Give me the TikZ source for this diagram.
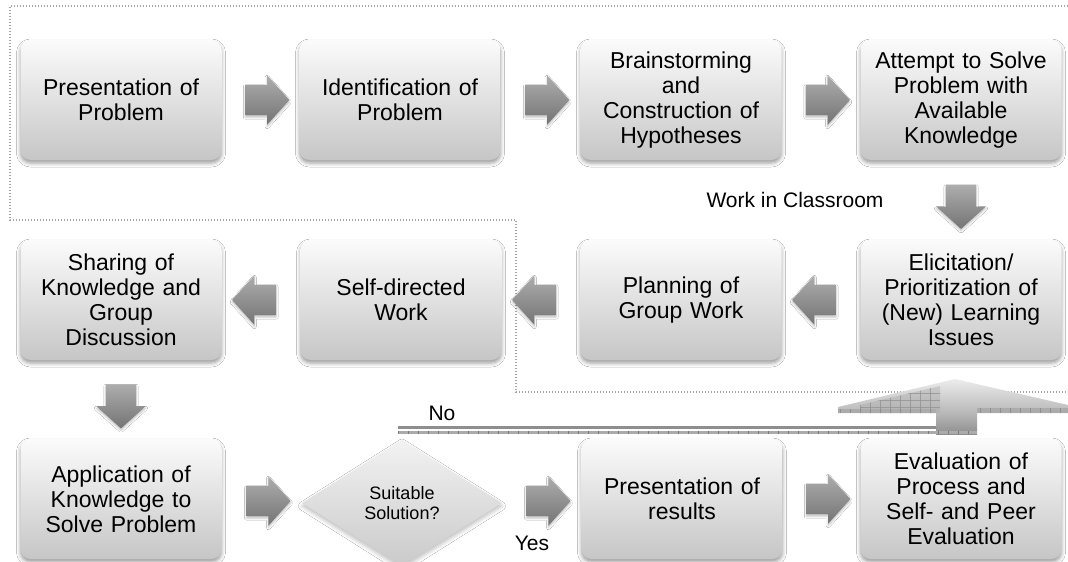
\documentclass[tikz,border=0pt]{standalone}
\usepackage{fontspec}
\setmainfont{Liberation Sans}
\usetikzlibrary{shapes.geometric,shapes.arrows,shadows.blur,calc}
\definecolor{boxtop}{HTML}{FBFBFB}
\definecolor{boxbot}{HTML}{C6C6C6}
\definecolor{arrtop}{HTML}{ADADAD}
\definecolor{arrbot}{HTML}{747474}
\definecolor{dotc}{HTML}{A4A4A4}
\definecolor{barA}{HTML}{8E8E8E}
\definecolor{barB}{HTML}{ABABAB}
\definecolor{headtop}{HTML}{ECECEC}
\definecolor{headbot}{HTML}{B8B8B8}
\definecolor{diatop}{HTML}{F2F2F2}
\definecolor{diabot}{HTML}{CACACA}
\tikzset{
  stepbox/.style={rectangle, rounded corners=10pt, minimum width=201pt, minimum height=120pt,
    text width=192pt, align=center, inner sep=0pt, top color=boxtop, bottom color=boxbot,
    draw=none, font=\fontsize{23}{25}\selectfont,
    blur shadow={shadow xshift=0pt, shadow yshift=-3pt, shadow blur radius=4pt, shadow opacity=40}},
  blockarrow/.style={single arrow, minimum height=44pt, minimum width=49pt, inner sep=15pt,
    single arrow head extend=9.5pt, single arrow tip angle=96, draw=none,
    top color=arrtop, bottom color=arrbot,
    blur shadow={shadow xshift=0pt, shadow yshift=-2pt, shadow blur radius=2pt, shadow opacity=25}},
  decision/.style={diamond, minimum width=200pt, minimum height=126pt, inner sep=0pt, align=center,
    draw=none, top color=diatop, bottom color=diabot,
    font=\fontsize{18}{20}\selectfont,
    blur shadow={shadow xshift=0pt, shadow yshift=-3pt, shadow blur radius=4pt, shadow opacity=25}},
  lbl/.style={font=\fontsize{21}{24}\selectfont, inner sep=0pt},
  zone/.style={draw=dotc, line width=1.1pt, dash pattern=on 1.1pt off 1.9pt},
}
\begin{document}
\begin{tikzpicture}[x=1pt,y=-1pt]
\useasboundingbox (0,0) rectangle (1068,562);
\fill[white] (0,0) rectangle (1068,562);
% zone border
\coordinate (z1) at (1068,6);
\coordinate (z2) at (10,6);
\coordinate (z3) at (10,220);
\coordinate (z4) at (516,220);
\coordinate (z5) at (516,392);
\coordinate (z6) at (1068,392);
\draw[zone] (z1) -- (z2) -- (z3) -- (z4) -- (z5) -- (z6);
% boxes
\node[stepbox] (b1) at (121,100) {Presentation of\\Problem};
\node[stepbox] (b2) at (400,100) {Identification of\\Problem};
\node[stepbox] (b3) at (681,100) {Brainstorming\\and\\Construction of\\Hypotheses};
\node[stepbox] (b4) at (961,100) {Attempt to Solve\\Problem with\\Available\\Knowledge};
\node[stepbox] (b5) at (961,300) {Elicitation/\\Prioritization of\\(New) Learning\\Issues};
\node[stepbox] (b6) at (681,300) {Planning of\\Group Work};
\node[stepbox] (b7) at (401,300) {Self-directed\\Work};
\node[stepbox] (b8) at (121,300) {Sharing of\\Knowledge and\\Group\\Discussion};
\node[stepbox] (b9) at (121,499) {Application of\\Knowledge to\\Solve Problem};
\node[decision] (dia) at (402,503) {Suitable\\Solution?};
\node[stepbox] (b10) at (682,499) {Presentation of\\results};
\node[stepbox] (b11) at (961,499) {Evaluation of\\Process and\\Self- and Peer\\Evaluation};
% block arrows
\node[blockarrow] (a1) at ($(b1.east)!0.5!(b2.west)$) {};
\node[blockarrow] (a2) at ($(b2.east)!0.5!(b3.west)$) {};
\node[blockarrow] (a3) at ($(b3.east)!0.5!(b4.west)$) {};
\node[blockarrow, shape border rotate=270] (a4) at ($(b4.south)!0.5!(b5.north)$) {};
\node[blockarrow, shape border rotate=180] (a5) at ($(b5.west)!0.5!(b6.east)$) {};
\node[blockarrow, shape border rotate=180] (a6) at ($(b6.west)!0.5!(b7.east)$) {};
\node[blockarrow, shape border rotate=180] (a7) at ($(b7.west)!0.5!(b8.east)$) {};
\node[blockarrow, shape border rotate=270] (a8) at ($(b8.south)!0.5!(b9.north)$) {};
\node[blockarrow] (a9) at ($(b9.east)!0.5!(dia.west)$) {};
\node[blockarrow] (a10) at ($(dia.east)!0.5!(b10.west)$) {};
\node[blockarrow] (a11) at ($(b10.east)!0.5!(b11.west)$) {};
% "No" return arrow
\coordinate (nA) at (398,426);
\coordinate (nC) at (936,413);
\coordinate (nD) at (838,413);
\coordinate (nE) at (838,407);
\coordinate (nT) at (955,379);
\coordinate (nF) at (1068,405);
\coordinate (nG) at (1068,413);
\coordinate (nH) at (977,413);
\coordinate (nI) at (977,434);
% head
\shade[top color=headtop, bottom color=headbot] (nD) -- (nE) -- (nT) -- (nF) -- (nG) -- (nH) -- (nC) -- cycle;
% darker gridded part of head
\begin{scope}
  \clip (860,413) -- (860,405) -- (940,386) -- (940,413) -- cycle;
  \fill[barB, opacity=.45] (850,380) rectangle (942,414);
  \foreach \x in {850,860,...,940} \draw[barA, line width=.4pt, opacity=.7] (\x,380) -- (\x,414);
  \foreach \y in {393,400,407} \draw[barA, line width=.4pt, opacity=.7] (850,\y) -- (942,\y);
\end{scope}
\fill[barB] (838,409) rectangle (936,413);
\fill[barB] (977,408) rectangle (1068,413);
\draw[barA, line width=4pt, dash pattern=on .7pt off 9.3pt] (840,411) -- (936,411);
\draw[barA, line width=5pt, dash pattern=on .7pt off 9.3pt] (980,410.5) -- (1068,410.5);
% shaft
\shade[top color=headbot, bottom color=barA] (nC) -- (nH) -- (nI) -- (936,434) -- cycle;
% horizontal bar: two strips
\fill[barA] (nA) rectangle (936,429);
\fill[barB] (398,431) rectangle (nI);
\draw[barA!85!black, line width=3pt, dash pattern=on .8pt off 9.2pt] (398,432.5) -- (977,432.5);
% labels
\node[lbl] (no) at (442,413) {No};
\node[lbl] (yes) at (532,543) {Yes};
\node[lbl] (wic) at (795,200) {Work in Classroom};
\end{tikzpicture}
\end{document}
